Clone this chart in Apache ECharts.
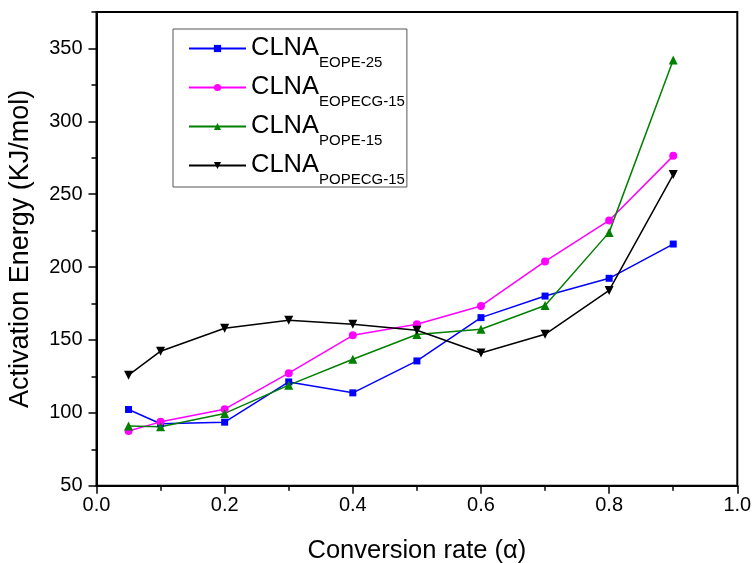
<!DOCTYPE html>
<html>
<head>
<meta charset="utf-8">
<title>Activation Energy vs Conversion rate</title>
<script src="https://cdn.jsdelivr.net/npm/echarts@6/dist/echarts.min.js"></script>
<style>
  html, body { margin: 0; padding: 0; background: #fff; }
  #chart { width: 754px; height: 563px; }
</style>
</head>
<body>
<div id="chart"></div>
<script>
// Conversion rate values (alpha)
const alpha = [0.05, 0.1, 0.2, 0.3, 0.4, 0.5, 0.6, 0.7, 0.8, 0.9];

// Activation energy (kJ/mol) per sample
const eope25     = [102.3, 92.5, 93.6, 121.2, 113.7, 135.6, 165.3, 180.1, 192.3, 215.8];
const eopecg15   = [87.5, 93.8, 102.5, 127.2, 153.2, 160.8, 173.3, 203.9, 232.0, 276.3];
const pope15     = [90.9, 90.4, 99.6, 119.0, 136.8, 153.7, 157.3, 173.6, 223.8, 342.0];
const popecg15   = [125.8, 142.3, 158.0, 163.5, 160.8, 156.7, 141.1, 153.9, 184.0, 263.5];

// Legend labels: base name and subscript
const seriesNames = ['CLNA EOPE-25', 'CLNA EOPECG-15', 'CLNA POPE-15', 'CLNA POPECG-15'];
const subscripts  = ['EOPE-25', 'EOPECG-15', 'POPE-15', 'POPECG-15'];
const baseName = 'CLNA';

const FONT = 'Arial, "Liberation Sans", sans-serif';

function pairs(ys) {
  return alpha.map((x, i) => [x, ys[i]]);
}

const chart = echarts.init(document.getElementById('chart'), null, { renderer: 'canvas' });

const lineSeries = (name, ys, color, symbol, size, rotate) => ({
  name: name,
  type: 'line',
  data: pairs(ys),
  symbol: symbol,
  symbolSize: size,
  symbolRotate: rotate || 0,
  showAllSymbol: true,
  color: color,
  itemStyle: { color: color },
  lineStyle: { color: color, width: 1.5 },
  emphasis: { disabled: true }
});

chart.setOption({
  animation: false,
  backgroundColor: '#fff',
  textStyle: { fontFamily: FONT },
  grid: {
    left: 96.5, right: 16.7, top: 12, bottom: 77.3,
    outerBoundsMode: 'none',
    containLabel: false,
    show: true, borderColor: '#000', borderWidth: 2,
    backgroundColor: 'transparent'
  },
  legend: {
    orient: 'vertical',
    left: 173, top: 29,
    itemWidth: 57, itemHeight: 9, itemGap: 4,
    padding: [6, 2, 0, 15],
    borderColor: '#555', borderWidth: 1,
    backgroundColor: '#fff',
    data: seriesNames,
    formatter: function (name) {
      const i = seriesNames.indexOf(name);
      return '{a|' + baseName + '}{b|' + subscripts[i] + '}';
    },
    textStyle: {
      color: '#000',
      rich: {
        a: { fontSize: 25.5, fontFamily: FONT, color: '#000', verticalAlign: 'top', padding: [8, 0, 0, 0] },
        b: { fontSize: 15, fontFamily: FONT, color: '#000', verticalAlign: 'top', padding: [28, 0, 0, 0] }
      }
    }
  },
  xAxis: {
    type: 'value',
    min: 0, max: 1, interval: 0.2,
    name: 'Conversion rate (\u03b1)',
    nameLocation: 'middle',
    nameGap: 52,
    nameTextStyle: { fontSize: 25.5, color: '#000', fontFamily: FONT },
    axisLine: { show: true, lineStyle: { color: '#000', width: 2 } },
    axisTick: { show: true, length: 8, lineStyle: { color: '#000', width: 1.5 } },
    minorTick: { show: true, splitNumber: 2, length: 5, lineStyle: { color: '#000', width: 1.5 } },
    axisLabel: {
      fontSize: 20, color: '#000', margin: 10, fontFamily: FONT,
      formatter: v => v.toFixed(1)
    },
    splitLine: { show: false }
  },
  yAxis: [
    {
      type: 'value',
      min: 50, max: 375, interval: 50,
      name: 'Activation Energy (KJ/mol)',
      nameLocation: 'middle',
      nameGap: 62,
      nameTextStyle: { fontSize: 27, color: '#000', fontFamily: FONT },
      axisLine: { show: true, lineStyle: { color: '#000', width: 2 } },
      axisTick: { show: true, length: 8, lineStyle: { color: '#000', width: 1.5 } },
      axisLabel: {
        fontSize: 20, color: '#000', margin: 14, fontFamily: FONT,
        showMaxLabel: false,
        formatter: v => (v <= 350 ? String(v) : '')
      },
      splitLine: { show: false }
    },
    {
      // minor ticks every 25
      type: 'value',
      position: 'left',
      min: 50, max: 375, interval: 25,
      axisLine: { show: false },
      axisTick: { show: true, length: 5, lineStyle: { color: '#000', width: 1.5 } },
      axisLabel: { show: false },
      splitLine: { show: false }
    }
  ],
  series: [
    lineSeries(seriesNames[0], eope25, '#0000ff', 'rect', 7),
    lineSeries(seriesNames[1], eopecg15, '#ff00ff', 'circle', 8),
    lineSeries(seriesNames[2], pope15, '#008000', 'triangle', 9),
    lineSeries(seriesNames[3], popecg15, '#000000', 'triangle', 9, 180)
  ]
});
</script>
</body>
</html>
